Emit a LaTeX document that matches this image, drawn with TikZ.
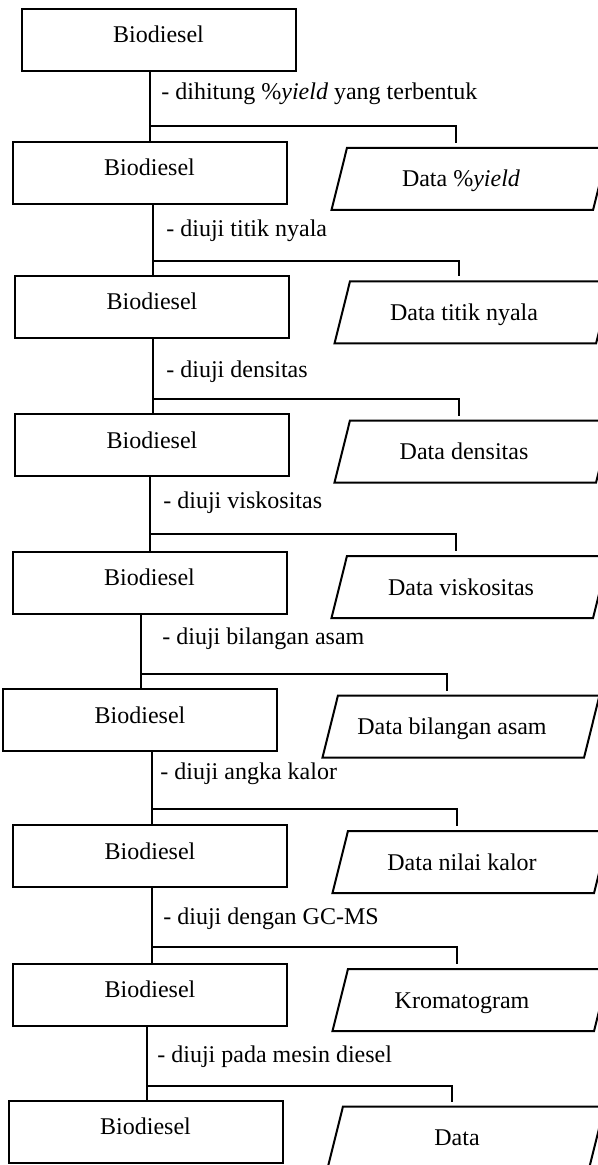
\documentclass[tikz,border=0pt]{standalone}
\usepackage{fontspec}
\setmainfont{Liberation Serif}
\usetikzlibrary{shapes}
\usetikzlibrary{positioning}
\usetikzlibrary{calc}

\tikzset{
	biobox/.style={draw, line width=1pt, minimum width=137pt, minimum height=31pt,
			inner sep=0pt, text height=8pt, text depth=5pt},
	databox/.style={trapezium, trapezium left angle=76, trapezium right angle=104,
			trapezium stretches body=true, draw, line width=1pt, minimum width=138.5pt,
			inner xsep=0pt, inner ysep=10pt, text height=9.5pt, text depth=1.5pt,
			execute at end node={\hspace*{9pt}}},
	steplabel/.style={anchor=base west, inner sep=0pt},
	link/.style={line width=0.6pt}
}

\begin{document}
\begin{tikzpicture}[x=0.5pt, y=-0.5pt, font=\fontsize{12pt}{14pt}\selectfont]
	\useasboundingbox (0, 0) rectangle (598, 1165);

	% sampel biodiesel di kolom kiri
	\node[biobox] (b1) at (158.5, 40) {Biodiesel};
	\node[biobox] (b2) at (149.5, 173) {Biodiesel};
	\node[biobox] (b3) at (152, 307) {Biodiesel};
	\node[biobox] (b4) at (152, 445) {Biodiesel};
	\node[biobox] (b5) at (149.5, 582.5) {Biodiesel};
	\node[biobox] (b6) at (140, 720) {Biodiesel};
	\node[biobox] (b7) at (150, 856) {Biodiesel};
	\node[biobox] (b8) at (150, 994.5) {Biodiesel};
	\node[biobox] (b9) at (145.5, 1131.5) {Biodiesel};

	% hasil di kolom kanan
	\node[databox] (d1) at (470, 179) {Data \%\textit{yield}};
	\node[databox] (d2) at (473, 312.5) {Data titik nyala};
	\node[databox] (d3) at (473, 451.5) {Data densitas};
	\node[databox] (d4) at (470, 587) {Data viskositas};
	\node[databox] (d5) at (461, 726.5) {Data bilangan asam};
	\node[databox] (d6) at (471, 862) {Data nilai kalor};
	\node[databox] (d7) at (471, 1000) {Kromatogram};
	\node[databox] (d8) at (466, 1137.5) {Data};

	\node[steplabel] (l1) at (161, 100) {- dihitung \%\textit{yield} yang terbentuk};
	\node[steplabel] (l2) at (166, 237) {- diuji titik nyala};
	\node[steplabel] (l3) at (166, 378) {- diuji densitas};
	\node[steplabel] (l4) at (163, 508) {- diuji viskositas};
	\node[steplabel] (l5) at (162, 644) {- diuji bilangan asam};
	\node[steplabel] (l6) at (160, 779) {- diuji angka kalor};
	\node[steplabel] (l7) at (163, 924) {- diuji dengan GC-MS};
	\node[steplabel] (l8) at (157, 1062) {- diuji pada mesin diesel};

	\coordinate (j1) at (150, 126);
	\coordinate (j2) at (153, 261);
	\coordinate (j3) at (153, 399);
	\coordinate (j4) at (150, 534);
	\coordinate (j5) at (141, 674);
	\coordinate (j6) at (152, 809);
	\coordinate (j7) at (152, 947);
	\coordinate (j8) at (147, 1086);

	\foreach \i/\k in {1/2, 2/3, 3/4, 4/5, 5/6, 6/7, 7/8, 8/9} {
		\draw[link] (b\i.south -| j\i) -- (b\k.north -| j\i);
		\draw[link] (j\i) -| ($(d\i.center)+(-14,-36)$);
	}
\end{tikzpicture}
\end{document}
